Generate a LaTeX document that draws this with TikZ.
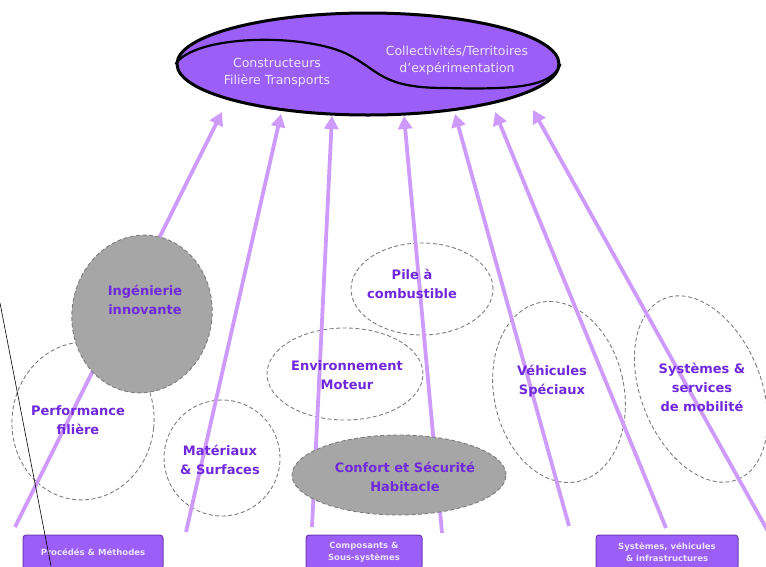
\documentclass[tikz,border=0pt]{standalone}
\usepackage{fontspec}
\setmainfont{DejaVu Sans}
\usetikzlibrary{shapes.geometric,arrows.meta}

\definecolor{lila}{RGB}{155,95,248}
\definecolor{lilaline}{RGB}{110,60,180}
\definecolor{pfeil}{RGB}{206,155,252}
\definecolor{blobgray}{RGB}{166,166,166}
\definecolor{dashgray}{RGB}{125,125,125}
\definecolor{ink}{RGB}{112,40,220}
\definecolor{pale}{RGB}{236,226,255}

\tikzset{
  themeblob/.style={ellipse, draw=dashgray, dash pattern=on 4pt off 2.5pt, line width=0.9pt, inner sep=0pt},
  greyblob/.style={themeblob, fill=blobgray},
  themetext/.style={text=ink, font=\bfseries\fontsize{13}{19}\selectfont, align=center},
  toptext/.style={text=pale, font=\fontsize{12.5}{17}\selectfont, align=center},
  levelbox/.style={draw=lilaline, fill=lila, rounded corners=3pt, line width=1pt, text=pale, font=\bfseries\fontsize{8.5}{12}\selectfont, align=center},
  feed/.style={draw=pfeil, line width=3.8pt, -{Triangle[length=13pt,width=14pt]}}
}

\begin{document}
\begin{tikzpicture}[x=1pt,y=-1pt]
    \clip (0,0) rectangle (766,566);

    % open themes
    \node (perf) at (83,421) [themeblob, minimum width=142pt, minimum height=158pt, rotate=-6] {};
    \node (mat) at (222,458) [themeblob, minimum width=116pt, minimum height=116pt] {};
    \node (env) at (345,374) [themeblob, minimum width=156pt, minimum height=92pt] {};
    \node (pile) at (422,289) [themeblob, minimum width=142pt, minimum height=92pt] {};
    \node (veh) at (559,392) [themeblob, minimum width=130pt, minimum height=183pt, rotate=12] {};
    \node (sys) at (701,389) [themeblob, minimum width=120pt, minimum height=195pt, rotate=22] {};

    % arrows up to the users
    \coordinate (f1) at (15,527);   \coordinate (t1) at (222,112);
    \coordinate (f2) at (186,532);  \coordinate (t2) at (281,114);
    \coordinate (f3) at (312,527);  \coordinate (t3) at (332,116);
    \coordinate (f4) at (442,533);  \coordinate (t4) at (404,116);
    \coordinate (f5) at (569,526);  \coordinate (t5) at (455,114);
    \coordinate (f6) at (666,528);  \coordinate (t6) at (495,112);
    \coordinate (f7) at (770,535);  \coordinate (t7) at (533,110);
    \draw[feed] (f1) -- (t1);
    \draw[feed] (f2) -- (t2);
    \draw[feed] (f3) -- (t3);
    \draw[feed] (f4) -- (t4);
    \draw[feed] (f5) -- (t5);
    \draw[feed] (f6) -- (t6);
    \draw[feed] (f7) -- (t7);

    % grey themes
    \node (ing) at (142,314) [greyblob, minimum width=140pt, minimum height=158pt, rotate=-8] {};
    \node (conf) at (399,475) [greyblob, minimum width=214pt, minimum height=80pt] {};

    % users
    \node (top) at (368,64) [ellipse, draw, line width=3pt, fill=lila, minimum width=382pt, minimum height=102pt] {};
    \draw[line width=2.2pt] (top.west) .. controls (195,35) and (300,33) .. (345,53)
        .. controls (380,70) and (380,88) .. (445,88)
        .. controls (520,90) and (552,86) .. (top.east);
    \node (ctr) at (277,73) [toptext] {Constructeurs\\Filière Transports};
    \node (coll) at (457,60) [toptext] {Collectivités/Territoires\\d'expérimentation};

    % theme labels
    \node (ingt) at (145,300) [themetext] {Ingénierie\\innovante};
    \node (perft) at (78,420) [themetext] {Performance\\filière};
    \node (matt) at (220,460) [themetext] {Matériaux\\\& Surfaces};
    \node (envt) at (347,375) [themetext] {Environnement\\Moteur};
    \node (pilet) at (412,284) [themetext] {Pile à\\combustible};
    \node (conft) at (405,477) [themetext] {Confort et Sécurité\\Habitacle};
    \node (veht) at (552,381) [themetext] {Véhicules\\Spéciaux};
    \node (syst) at (702,387) [themetext] {Systèmes \&\\services\\de mobilité};

    % levels
    \node (pm) at (93,552) [levelbox, minimum width=140pt, minimum height=34pt] {Procédés \& Méthodes};
    \node (css) at (364,552) [levelbox, minimum width=116pt, minimum height=34pt] {Composants \&\\Sous-systèmes};
    \node (svi) at (667,552) [levelbox, minimum width=142pt, minimum height=34pt] {Systèmes, véhicules\\\& infrastructures};

    \coordinate (s1) at (0,303);
    \coordinate (s2) at (51,566);
    \draw[line width=0.6pt] (s1) -- (s2);
\end{tikzpicture}
\end{document}
